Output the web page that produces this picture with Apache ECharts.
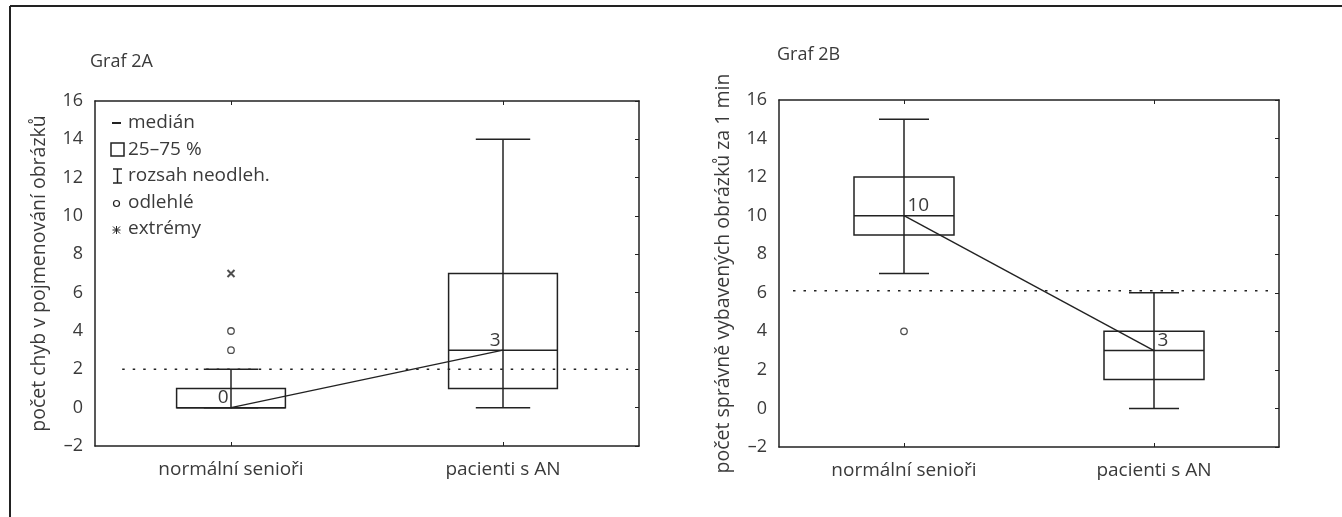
<!DOCTYPE html>
<html>
<head>
<meta charset="utf-8">
<script src="https://cdn.jsdelivr.net/npm/echarts@6/dist/echarts.min.js"></script>
<style>
html,body{margin:0;padding:0;background:#fff;}
#chart{width:1342px;height:517px;}
</style>
</head>
<body>
<div id="chart"></div>
<script>
// ---- data ----
const categories = ['normální senioři', 'pacienti s AN'];
// [min, Q1, median, Q3, max] per category
const boxA = [[0, 0, 0, 1, 2], [0, 1, 3, 7, 14]];
const outliersA = [[0, 3], [0, 4]];
const extremesA = [[0, 7]];
const refA = 2;
const boxB = [[7, 9, 10, 12, 15], [0, 1.5, 3, 4, 6]];
const outliersB = [[0, 4]];
const extremesB = [];
const refB = 6.1;
const yMin = -2, yMax = 16, yStep = 2;
const titleA = 'Graf 2A', titleB = 'Graf 2B';
const yNameA = 'počet chyb v pojmenování obrázků';
const yNameB = 'počet správně vybavených obrázků za 1 min';
const legendItems = ['medián', '25–75 %', 'rozsah neodleh.', 'odlehlé', 'extrémy'];

// ---- styles ----
const FONT = '"Open Sans", "Noto Sans", sans-serif';
const TXT = '#3a3a3a';
const LN = '#222';

const chart = echarts.init(document.getElementById('chart'));

function boxRender(params, api) {
  const i = api.value(0);
  const x = api.coord([i, api.value(3)])[0];
  const yMn = api.coord([i, api.value(1)])[1];
  const yQ1 = api.coord([i, api.value(2)])[1];
  const yMd = api.coord([i, api.value(3)])[1];
  const yQ3 = api.coord([i, api.value(4)])[1];
  const yMx = api.coord([i, api.value(5)])[1];
  const band = api.size([1, 0])[0];
  const bw = band * 0.4, cw = band * 0.2;
  const st = {stroke: LN, lineWidth: 1.5, fill: 'none'};
  return {
    type: 'group',
    children: [
      {type: 'line', shape: {x1: x, y1: yMn, x2: x, y2: yMx}, style: st},
      {type: 'line', shape: {x1: x - cw / 2, y1: yMn, x2: x + cw / 2, y2: yMn}, style: st},
      {type: 'line', shape: {x1: x - cw / 2, y1: yMx, x2: x + cw / 2, y2: yMx}, style: st},
      {type: 'rect', shape: {x: x - bw / 2, y: yQ3, width: bw, height: yQ1 - yQ3}, style: st},
      {type: 'line', shape: {x1: x - bw / 2, y1: yMd, x2: x + bw / 2, y2: yMd}, style: st}
    ]
  };
}

function axesFor(g) {
  return [
    {type: 'category', gridIndex: g, data: categories, position: 'bottom',
     axisLine: {show: true, onZero: false, lineStyle: {color: LN, width: 1.5}},
     axisTick: {show: true, inside: true, alignWithLabel: true, length: 4, lineStyle: {color: LN}},
     axisLabel: {color: TXT, fontFamily: FONT, fontSize: 19, margin: 14},
     splitLine: {show: false}},
    {type: 'category', gridIndex: g, data: categories, position: 'top',
     axisLine: {show: true, onZero: false, lineStyle: {color: LN, width: 1.5}},
     axisTick: {show: true, inside: true, alignWithLabel: true, length: 4, lineStyle: {color: LN}},
     axisLabel: {show: false}, splitLine: {show: false}},
    {type: 'value', gridIndex: g, min: 0, max: 1, show: false}
  ];
}
function yAxesFor(g, name) {
  return [
    {type: 'value', gridIndex: g, min: yMin, max: yMax, interval: yStep, position: 'left',
     name: name, nameLocation: 'middle', nameGap: 46,
     nameTextStyle: {color: TXT, fontFamily: FONT, fontSize: 19.5},
     axisLine: {show: true, onZero: false, lineStyle: {color: LN, width: 1.5}},
     axisTick: {show: false},
     axisLabel: {color: TXT, fontFamily: FONT, fontSize: 18, margin: 12,
       formatter: v => v < 0 ? '–' + Math.abs(v) : String(v)},
     splitLine: {show: false}},
    {type: 'value', gridIndex: g, min: yMin, max: yMax, interval: yStep, position: 'right',
     axisLine: {show: true, onZero: false, lineStyle: {color: LN, width: 1.5}},
     axisTick: {show: true, inside: true, length: 4, lineStyle: {color: LN}},
     axisLabel: {show: false}, splitLine: {show: false}}
  ];
}

function seriesFor(g, box, outl, ext, ref, refStart, refEnd, labelPos) {
  const xi = g * 3, yi = g * 2;
  return [
    {type: 'custom', xAxisIndex: xi, yAxisIndex: yi, renderItem: boxRender,
     encode: {x: 0, y: [1, 2, 3, 4, 5]},
     data: box.map((b, i) => [i].concat(b)), z: 2},
    {type: 'line', xAxisIndex: xi, yAxisIndex: yi, data: box.map(b => b[2]),
     symbol: 'circle', symbolSize: 1, showSymbol: true, showAllSymbol: true,
     itemStyle: {color: LN},
     lineStyle: {color: LN, width: 1.4}, z: 3,
     label: {show: true, position: labelPos, distance: labelPos === 'left' ? 2 : 3,
       offset: [0, -10], color: TXT, fontFamily: FONT, fontSize: 19}},
    {type: 'scatter', xAxisIndex: xi, yAxisIndex: yi, data: outl, symbol: 'circle', symbolSize: 6.5,
     itemStyle: {color: '#fff', borderColor: LN, borderWidth: 1.3}, z: 4},
    {type: 'scatter', xAxisIndex: xi, yAxisIndex: yi, data: ext,
     symbol: 'path://M0,0L10,10M10,0L0,10', symbolSize: 7,
     itemStyle: {color: 'none', borderColor: LN, borderWidth: 2}, z: 4},
    {type: 'line', xAxisIndex: xi + 2, yAxisIndex: yi, data: [[refStart, ref], [refEnd, ref]],
     symbol: 'none', lineStyle: {color: LN, width: 1.5, type: [2.5, 8]}, z: 1}
  ];
}

// legend drawn as graphics
const lx = 111, ly0 = 123, ldy = 26.5;
const lg = [];
const ls = {stroke: LN, lineWidth: 1.5, fill: 'none'};
lg.push({type: 'line', shape: {x1: lx + 1, y1: ly0, x2: lx + 10, y2: ly0}, style: {stroke: LN, lineWidth: 2}});
lg.push({type: 'rect', shape: {x: lx, y: ly0 + ldy - 6.5, width: 13, height: 13}, style: ls});
const iy = ly0 + 2 * ldy;
lg.push({type: 'line', shape: {x1: lx + 6.5, y1: iy - 7, x2: lx + 6.5, y2: iy + 7}, style: ls});
lg.push({type: 'line', shape: {x1: lx + 2, y1: iy - 7, x2: lx + 11, y2: iy - 7}, style: ls});
lg.push({type: 'line', shape: {x1: lx + 2, y1: iy + 7, x2: lx + 11, y2: iy + 7}, style: ls});
lg.push({type: 'circle', shape: {cx: lx + 5.5, cy: ly0 + 3 * ldy + 1, r: 3}, style: {stroke: LN, lineWidth: 1.2, fill: '#fff'}});
const ay = ly0 + 4 * ldy + 1, ax = lx + 5.5;
lg.push({type: 'line', shape: {x1: ax - 3.5, y1: ay - 3.5, x2: ax + 3.5, y2: ay + 3.5}, style: {stroke: LN, lineWidth: 1}});
lg.push({type: 'line', shape: {x1: ax + 3.5, y1: ay - 3.5, x2: ax - 3.5, y2: ay + 3.5}, style: {stroke: LN, lineWidth: 1}});
lg.push({type: 'line', shape: {x1: ax - 4, y1: ay, x2: ax + 4, y2: ay}, style: {stroke: LN, lineWidth: 1}});
lg.push({type: 'line', shape: {x1: ax, y1: ay - 4, x2: ax, y2: ay + 4}, style: {stroke: LN, lineWidth: 1}});
legendItems.forEach((t, k) => {
  lg.push({type: 'text', x: lx + 17, y: ly0 + k * ldy,
    style: {text: t, fill: TXT, font: '19px ' + FONT, verticalAlign: 'middle', align: 'left'}});
});

const option = {
  animation: false,
  backgroundColor: '#fff',
  grid: [
    {left: 95, top: 101, width: 544, height: 345},
    {left: 779, top: 100, width: 500, height: 347}
  ],
  xAxis: axesFor(0).concat(axesFor(1)),
  yAxis: yAxesFor(0, yNameA).concat(yAxesFor(1, yNameB)),
  series: seriesFor(0, boxA, outliersA, extremesA, refA, 0.05, 0.98, 'left')
    .concat(seriesFor(1, boxB, outliersB, extremesB, refB, 0.028, 0.982, 'right')),
  graphic: [
    {type: 'line', shape: {x1: 10, y1: 6, x2: 1342, y2: 6}, style: {stroke: LN, lineWidth: 2}},
    {type: 'line', shape: {x1: 10, y1: 6, x2: 10, y2: 517}, style: {stroke: LN, lineWidth: 2}},
    {type: 'text', x: 90, y: 62, style: {text: titleA, fill: TXT, font: '18px ' + FONT, verticalAlign: 'middle'}},
    {type: 'text', x: 777, y: 55, style: {text: titleB, fill: TXT, font: '18px ' + FONT, verticalAlign: 'middle'}},
    {type: 'group', children: lg}
  ]
};
chart.setOption(option);
</script>
</body>
</html>
